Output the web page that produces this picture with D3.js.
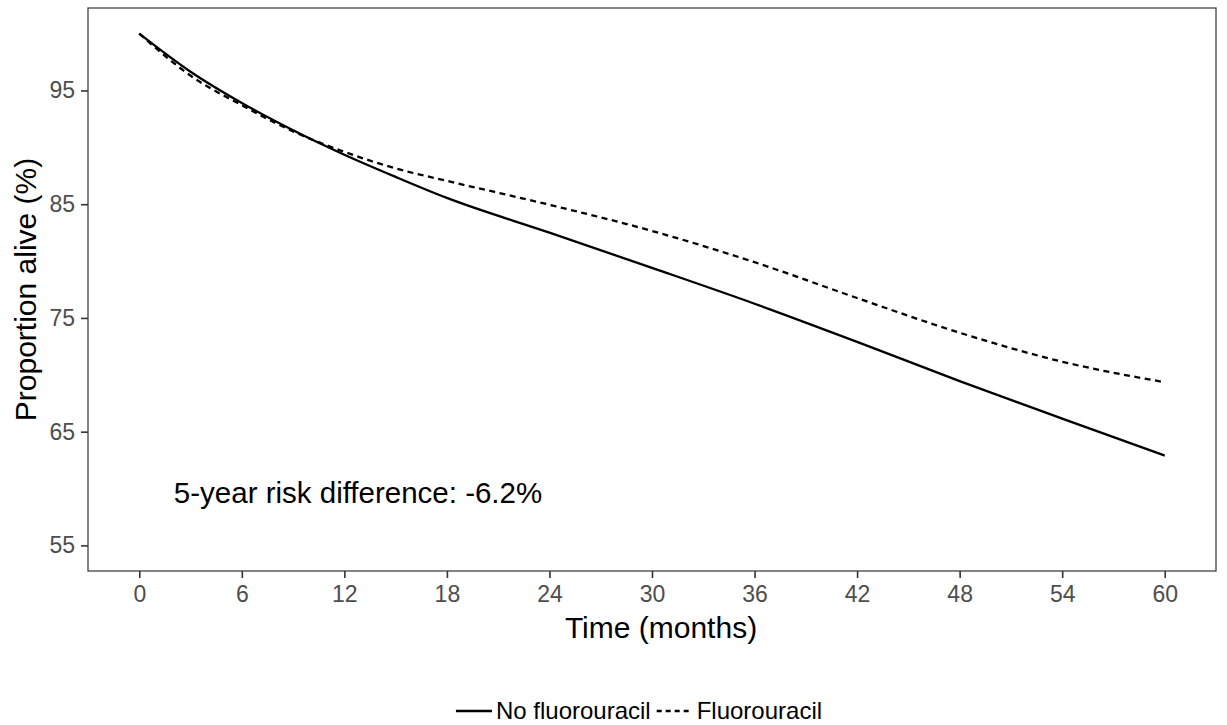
<!DOCTYPE html>
<html>
<head>
<meta charset="utf-8">
<script src="https://cdn.jsdelivr.net/npm/d3@7"></script>
<style>
  body { margin: 0; background: #fff; }
  text { font-family: "Liberation Sans", Arial, sans-serif; }
</style>
</head>
<body>
<div id="canvas"></div>
<script>
// data (months, % alive)
var months = [0, 3, 6, 9, 12, 15, 18, 24, 30, 36, 42, 48, 54, 60];
var noFluoro = [100, 96.65, 93.9, 91.5, 89.35, 87.4, 85.55, 82.5, 79.4, 76.25, 72.9, 69.45, 66.15, 62.9];
var fluoro   = [100, 96.3, 93.7, 91.4, 89.6, 88.15, 87.05, 84.95, 82.65, 79.9, 76.75, 73.7, 71.15, 69.35];
var xTicks = [0, 6, 12, 18, 24, 30, 36, 42, 48, 54, 60];
var yTicks = [55, 65, 75, 85, 95];
var seriesNames = ['No fluorouracil', 'Fluorouracil'];
var riskLabel = '5-year risk difference: -6.2%';

var W = 1227, H = 725;
var m = {t: 8, r: 11, b: 154, l: 88};
var w = W - m.l - m.r,
    h = H - m.t - m.b;

var svg = d3.select('#canvas')
    .append('svg')
    .attr('width', W)
    .attr('height', H);

var plot = svg.append('g')
    .attr('transform', 'translate(' + m.l + ',' + m.t + ')');

var scaleX = d3.scaleLinear().domain([-3, 63]).range([0, w]);
var scaleY = d3.scaleLinear().domain([52.75, 102.25]).range([h, 0]);

var dashes = [null, '6,4.5'];
var series = [noFluoro, fluoro].map(function(vals, i){
  return { name: seriesNames[i], dash: dashes[i],
           pts: months.map(function(mo, j){ return {x: mo, y: vals[j]}; }) };
});

var line = d3.line()
    .x(function(d){ return scaleX(d.x); })
    .y(function(d){ return scaleY(d.y); })
    .curve(d3.curveMonotoneX);

series.forEach(function(s){
  plot.append('path')
    .attr('d', line(s.pts))
    .attr('fill', 'none')
    .attr('stroke', '#000')
    .attr('stroke-width', 2.3)
    .attr('stroke-dasharray', s.dash);
});

// annotation
plot.append('text')
  .attr('x', scaleX(12.8))
  .attr('y', 495)
  .attr('text-anchor', 'middle')
  .attr('font-size', 29.5)
  .text(riskLabel);

// axes
var axisX = d3.axisBottom(scaleX).tickValues(xTicks).tickSize(7).tickPadding(8);
var axisY = d3.axisLeft(scaleY).tickValues(yTicks).tickSize(7).tickPadding(6);

var gx = plot.append('g').attr('transform', 'translate(0,' + h + ')').call(axisX);
var gy = plot.append('g').call(axisY);
[gx, gy].forEach(function(g){
  g.select('.domain').remove();
  g.selectAll('line').attr('stroke', '#333').attr('stroke-width', 1.6);
  g.selectAll('text').attr('fill', '#4d4d4d').attr('font-size', 23)
    .attr('font-family', '"Liberation Sans", Arial, sans-serif');
});

// panel border
plot.append('rect')
  .attr('width', w).attr('height', h)
  .attr('fill', 'none')
  .attr('stroke', '#333')
  .attr('stroke-width', 1.2);

// axis titles
svg.append('text')
  .attr('x', 661)
  .attr('y', 638)
  .attr('text-anchor', 'middle')
  .attr('font-size', 30)
  .text('Time (months)');

svg.append('text')
  .attr('transform', 'translate(36,' + (m.t + h / 2) + ') rotate(-90)')
  .attr('text-anchor', 'middle')
  .attr('font-size', 30)
  .text('Proportion alive (%)');

// legend
var leg = svg.append('g');
var lx = 0;
series.forEach(function(s){
  leg.append('line')
    .attr('x1', lx).attr('x2', lx + 36)
    .attr('y1', 0).attr('y2', 0)
    .attr('stroke', '#000').attr('stroke-width', 2.3)
    .attr('stroke-dasharray', s.dash ? '5,4' : null);
  var t = leg.append('text')
    .attr('x', lx + 40).attr('y', 8)
    .attr('font-size', 24)
    .text(s.name);
  lx += 40 + t.node().getComputedTextLength() + 6;
});
leg.attr('transform', 'translate(' + (642 - lx / 2) + ',711)');
</script>
</body>
</html>
